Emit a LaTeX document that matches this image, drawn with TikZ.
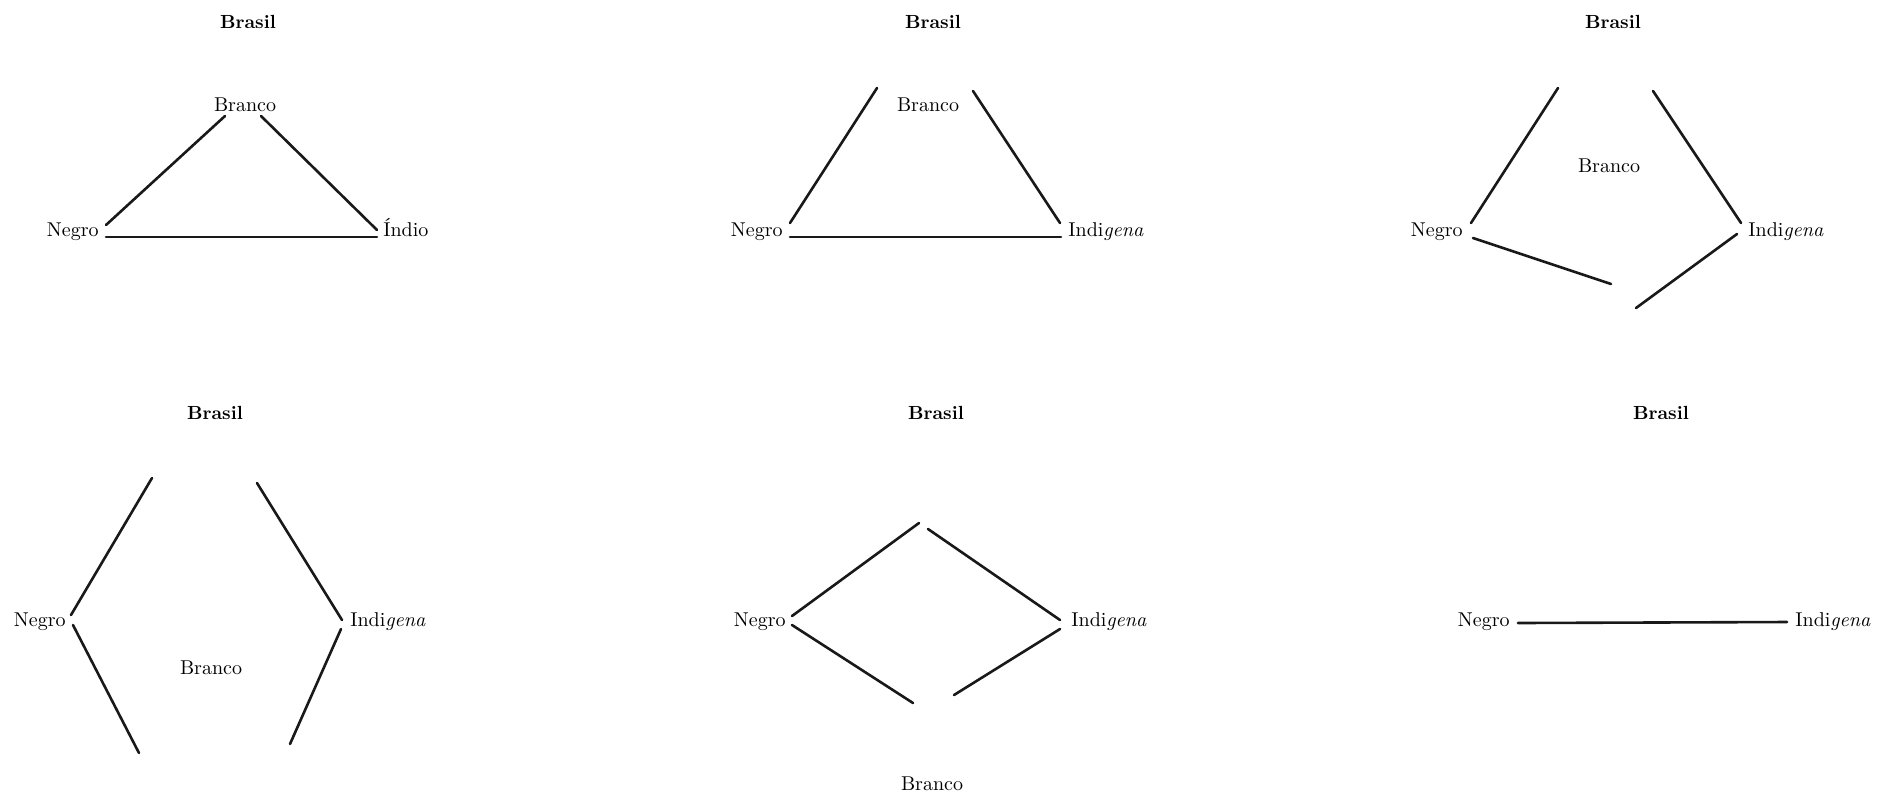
\documentclass[tikz,border=0pt]{standalone}
\begin{document}
\begin{tikzpicture}[x=0.5pt,y=-0.5pt,
  lbl/.style={inner sep=0pt,font=\fontsize{10}{12}\selectfont},
  ttl/.style={inner sep=0pt,font=\fontsize{9.5}{12}\selectfont\bfseries},
  conn/.style={line width=1.3pt,line cap=round,black!90}]
\useasboundingbox[fill=white] (0,0) rectangle (1888,794);
\newcommand{\ind}{Indi\textit{gena}}
% ---------- Panel 1
\node[ttl] (b1) at (248,22) {Brasil};
\node[lbl] (w1) at (245,105) {Branco};
\node[lbl,anchor=mid east] (n1) at (99,232) {Negro};
\node[lbl,anchor=mid west] (i1) at (383,232) {Índio};
\coordinate (a1) at (225,116); \coordinate (a2) at (106,225);
\coordinate (a3) at (261,116); \coordinate (a4) at (377,230);
\coordinate (a5) at (106,237); \coordinate (a6) at (377,237);
\draw[conn] (a1) -- (a2);
\draw[conn] (a3) -- (a4);
\draw[conn] (a5) -- (a6);
% ---------- Panel 2
\node[ttl] (b2) at (933,22) {Brasil};
\node[lbl] (w2) at (928,105) {Branco};
\node[lbl,anchor=mid east] (n2) at (783,232) {Negro};
\node[lbl,anchor=mid west] (i2) at (1068,232) {\ind};
\coordinate (c1) at (877,88); \coordinate (c2) at (790,223);
\coordinate (c3) at (973,91); \coordinate (c4) at (1060,223);
\coordinate (c5) at (790,237); \coordinate (c6) at (1061,237);
\draw[conn] (c1) -- (c2);
\draw[conn] (c3) -- (c4);
\draw[conn] (c5) -- (c6);
% ---------- Panel 3
\node[ttl] (b3) at (1613,22) {Brasil};
\node[lbl] (w3) at (1609,166) {Branco};
\node[lbl,anchor=mid east] (n3) at (1463,232) {Negro};
\node[lbl,anchor=mid west] (i3) at (1748,232) {\ind};
\coordinate (d1) at (1558,88); \coordinate (d2) at (1471,223);
\coordinate (d3) at (1653,91); \coordinate (d4) at (1741,223);
\coordinate (d5) at (1473,238); \coordinate (d6) at (1611,284);
\coordinate (d7) at (1737,234); \coordinate (d8) at (1636,308);
\draw[conn] (d1) -- (d2);
\draw[conn] (d3) -- (d4);
\draw[conn] (d5) -- (d6);
\draw[conn] (d7) -- (d8);
% ---------- Panel 4
\node[ttl] (b4) at (215,413) {Brasil};
\node[lbl] (w4) at (211,668) {Branco};
\node[lbl,anchor=mid east] (n4) at (66,622) {Negro};
\node[lbl,anchor=mid west] (i4) at (350,622) {\ind};
\coordinate (e1) at (152,478); \coordinate (e2) at (71,615);
\coordinate (e3) at (257,483); \coordinate (e4) at (342,620);
\coordinate (e5) at (73,625); \coordinate (e6) at (139,753);
\coordinate (e7) at (341,629); \coordinate (e8) at (290,744);
\draw[conn] (e1) -- (e2);
\draw[conn] (e3) -- (e4);
\draw[conn] (e5) -- (e6);
\draw[conn] (e7) -- (e8);
% ---------- Panel 5
\node[ttl] (b5) at (936,413) {Brasil};
\node[lbl] (w5) at (932,784) {Branco};
\node[lbl,anchor=mid east] (n5) at (786,622) {Negro};
\node[lbl,anchor=mid west] (i5) at (1071,622) {\ind};
\coordinate (f1) at (919,523); \coordinate (f2) at (792,616);
\coordinate (f3) at (928,529); \coordinate (f4) at (1060,620);
\coordinate (f5) at (792,625); \coordinate (f6) at (913,703);
\coordinate (f7) at (1060,629); \coordinate (f8) at (954,695);
\draw[conn] (f1) -- (f2);
\draw[conn] (f3) -- (f4);
\draw[conn] (f5) -- (f6);
\draw[conn] (f7) -- (f8);
% ---------- Panel 6
\node[ttl] (b6) at (1661,413) {Brasil};
\node[lbl,anchor=mid east] (n6) at (1510,622) {Negro};
\node[lbl,anchor=mid west] (i6) at (1795,622) {\ind};
\coordinate (g1) at (1518,623); \coordinate (g2) at (1787,622);
\draw[conn] (g1) -- (g2);
\end{tikzpicture}
\end{document}
